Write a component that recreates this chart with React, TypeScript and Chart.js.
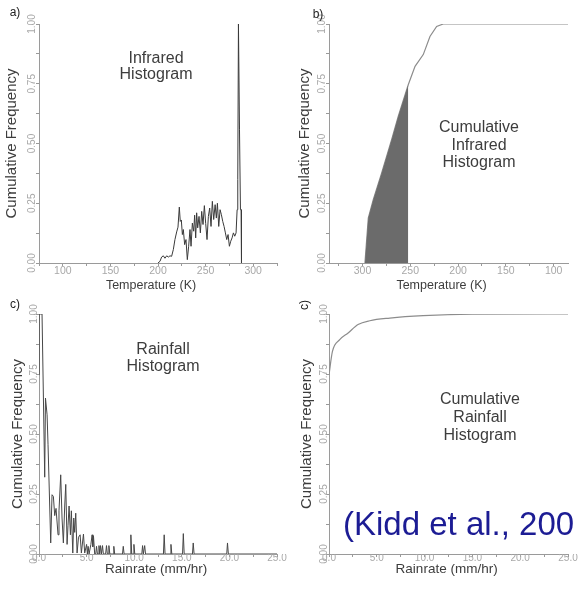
import { useEffect, useRef } from 'react';
import { Chart, registerables } from 'chart.js';

Chart.register(...registerables);

// ---- a) Infrared histogram -------------------------------------------------
const IR_TEMP_K = [
  200, 202.1, 203.8, 205.6, 207.3, 209.1, 210.9, 212.6, 214.3, 216.1, 217.8, 219.6, 221.0,
  222.4, 223.4, 224.5, 225.6, 226.6, 228.0, 229.4, 230.8, 232.2, 233.6, 234.7, 236.1, 237.5,
  238.5, 239.6, 240.6, 241.7, 243.1, 244.5, 245.9, 247.3, 248.7, 250.1, 251.5, 252.9, 254.3,
  255.7, 257.1, 258.5, 260.0, 261.3, 262.4, 263.8, 265.2, 266.6, 268.0, 269.4, 270.8, 272.2,
  273.6, 275.0, 276.4, 277.8, 279.2, 280.6, 282.0, 283.1, 283.8, 284.5, 285.6, 286.6, 287.3,
  287.7,
];
const IR_FREQ = [
  0, 0.007, 0.025, 0.03, 0.02, 0.03, 0.025, 0.03, 0.028, 0.056, 0.098, 0.13, 0.15,
  0.234, 0.174, 0.18, 0.119, 0.14, 0.077, 0.098, 0.014, 0.07, 0.14, 0.07, 0.167, 0.133,
  0.2, 0.105, 0.21, 0.147, 0.195, 0.126, 0.216, 0.161, 0.24, 0.165, 0.098, 0.195, 0.23,
  0.153, 0.258, 0.182, 0.244, 0.188, 0.25, 0.153, 0.223, 0.202, 0.174, 0.153, 0.126, 0.098,
  0.119, 0.07, 0.091, 0.105, 0.126, 0.112, 0.126, 0.223, 0.35, 1.0, 0.56, 0.223, 0.223,
  0,
];

// ---- b) Cumulative infrared histogram (temperature decreasing to the right) --
const CUM_IR_TEMP_K = [297.4, 293.9, 288.7, 279.9, 269.5, 262.6, 252.1, 245.0, 236.4, 229.4, 222.4, 215.5, 85];
const CUM_IR_FREQ = [0, 0.188, 0.265, 0.377, 0.516, 0.613, 0.746, 0.823, 0.872, 0.948, 0.99, 1.0, 1.0];
const IR_SHADE_LIMIT_K = 252.1;

// ---- c) Rainfall histogram -------------------------------------------------
const RAIN_RATE = [
  0, 0.02, 0.32, 0.6, 0.68, 0.85, 0.95, 1.09, 1.23, 1.37, 1.51, 1.65, 1.79, 2.0, 2.1, 2.28,
  2.42, 2.56, 2.7, 2.81, 2.95, 3.05, 3.16, 3.3, 3.4, 3.55, 3.65, 3.75, 3.86, 4.0, 4.15, 4.32,
  4.45, 4.67, 4.8, 5.0, 5.08, 5.16, 5.26, 5.45, 5.58, 5.65, 5.72, 5.85, 5.96, 6.04, 6.14,
  6.22, 6.3, 6.38, 6.46, 6.56, 6.6, 6.67, 6.76, 7.0, 7.09, 7.18, 7.26, 7.34, 7.44,
  7.78, 7.86, 7.95, 8.77, 8.85, 8.94, 9.57, 9.65, 9.74, 9.9, 9.97, 10.06, 10.8, 10.88,
  10.96, 11.02, 11.1, 11.19, 13.07, 13.15, 13.24, 13.78, 13.86, 13.95, 15.08, 15.16,
  15.25, 16.12, 16.2, 16.29, 19.72, 19.8, 19.89, 25,
];
const RAIN_FREQ = [
  0.747, 1.0, 1.0, 0.32, 0.65, 0.58, 0.455, 0.25, 0.046, 0.247, 0.24, 0.16, 0.19, 0.08, 0.18, 0.33,
  0.15, 0.046, 0.2, 0.29, 0.04, 0.12, 0.2, 0.08, 0.18, 0.004, 0.15, 0.09, 0.17, 0.004, 0.07, 0.08,
  0.004, 0.083, 0.004, 0.04, 0, 0.032, 0, 0.04, 0.08, 0.03, 0.076, 0, 0, 0.032, 0,
  0, 0.035, 0, 0.035, 0, 0, 0.035, 0, 0, 0.035, 0, 0, 0.035, 0,
  0, 0.032, 0, 0, 0.032, 0, 0, 0.08, 0, 0, 0.04, 0, 0, 0.035,
  0, 0, 0.035, 0, 0, 0.08, 0, 0, 0.04, 0, 0, 0.085,
  0, 0, 0.046, 0, 0, 0.046, 0, 0,
];

// ---- d) Cumulative rainfall histogram --------------------------------------
const CUM_RAIN_RATE = [0, 0.36, 1.12, 2.0, 3.04, 4.26, 6.36, 9.85, 15, 25];
const CUM_RAIN_FREQ = [0.747, 0.844, 0.893, 0.921, 0.956, 0.972, 0.983, 0.993, 0.999, 1.0];

// ---- axis ticks ------------------------------------------------------------
const TEMP_TICKS = [75, 100, 125, 150, 175, 200, 225, 250, 275, 300, 325];
const TEMP_LABELS = [100, 150, 200, 250, 300];
const RAIN_TICKS = [0, 2.5, 5, 7.5, 10, 12.5, 15, 17.5, 20, 22.5, 25];
const RAIN_LABELS = [0, 5, 10, 15, 20, 25];
const FREQ_TICKS = [0, 0.125, 0.25, 0.375, 0.5, 0.625, 0.75, 0.875, 1];
const FREQ_LABELS = [0, 0.25, 0.5, 0.75, 1];

const FONT = '"Liberation Sans", Arial, sans-serif';
const AXIS_GREY = '#9a9a9a';
const TICK_GREY = '#a8a8a8';
const TEXT_DARK = '#3d3d3d';

type Note = { text: string; x: number; y: number; size: number; color?: string; rotate?: number; align?: CanvasTextAlign };

const pts = (xs: number[], ys: number[]) => xs.map((x, i) => ({ x, y: ys[i] }));

function notesPlugin(notes: Note[]) {
  return {
    id: 'panelNotes',
    afterDraw(chart: Chart) {
      const ctx = chart.ctx;
      for (const n of notes) {
        ctx.save();
        ctx.font = `${n.size}px ${FONT}`;
        ctx.fillStyle = n.color ?? TEXT_DARK;
        ctx.textAlign = n.align ?? 'center';
        ctx.textBaseline = 'middle';
        ctx.translate(n.x, n.y);
        if (n.rotate) ctx.rotate(n.rotate);
        ctx.fillText(n.text, 0, 0);
        ctx.restore();
      }
    },
  };
}

type PanelProps = {
  left: number; top: number; width: number; height: number;
  areaBottom: number; areaRight: number;
  xMin: number; xMax: number; reverse?: boolean;
  xTicks: number[]; xLabels: number[]; fmt: (v: number) => string;
  xTitle: string; xTitleSize: number; xTitlePad: number; xTickPad: number; xTickSize: number;
  yTickPad: number; yTitlePad: number;
  datasets: any[];
  notes: Note[];
};

function Panel(p: PanelProps) {
  const ref = useRef<HTMLCanvasElement>(null);
  useEffect(() => {
    if (!ref.current) return;
    const chart = new Chart(ref.current, {
      type: 'line',
      data: { datasets: p.datasets },
      options: {
        responsive: false,
        animation: false,
        events: [],
        layout: { padding: { top: 24, right: p.width - p.areaRight, left: 0, bottom: 0 } },
        plugins: { legend: { display: false }, tooltip: { enabled: false } },
        elements: { point: { radius: 0 }, line: { tension: 0 } },
        scales: {
          x: {
            type: 'linear',
            min: p.xMin,
            max: p.xMax,
            reverse: !!p.reverse,
            afterBuildTicks: (s: any) => { s.ticks = p.xTicks.map((value) => ({ value })); },
            afterFit: (s: any) => { s.height = p.height - p.areaBottom; },
            ticks: {
              autoSkip: false, minRotation: 0, maxRotation: 0,
              padding: p.xTickPad,
              color: TICK_GREY,
              font: { family: FONT, size: p.xTickSize },
              callback: (v: any) => (p.xLabels.includes(v) ? p.fmt(v) : ''),
            },
            grid: { drawOnChartArea: false, drawTicks: true, tickLength: 3, color: AXIS_GREY },
            border: { display: true, color: AXIS_GREY, width: 1 },
            title: {
              display: true, text: p.xTitle, color: TEXT_DARK,
              font: { family: FONT, size: p.xTitleSize, lineHeight: 1 },
              padding: { top: 0, bottom: p.xTitlePad },
            },
          },
          y: {
            type: 'linear',
            min: 0,
            max: 1,
            afterBuildTicks: (s: any) => { s.ticks = FREQ_TICKS.map((value) => ({ value })); },
            afterFit: (s: any) => { s.width = 39; },
            ticks: {
              minRotation: 90, maxRotation: 90, crossAlign: 'center',
              padding: p.yTickPad,
              color: TICK_GREY,
              font: { family: FONT, size: 10 },
              callback: (v: any) => (FREQ_LABELS.includes(v) ? Number(v).toFixed(2) : ''),
            },
            grid: { drawOnChartArea: false, drawTicks: true, tickLength: 3, color: AXIS_GREY },
            border: { display: true, color: AXIS_GREY, width: 1 },
            title: {
              display: true, text: 'Cumulative Frequency', color: TEXT_DARK,
              font: { family: FONT, size: 15, lineHeight: 1 },
              padding: { top: p.yTitlePad, bottom: 0 },
            },
          },
        },
      } as any,
      plugins: [notesPlugin(p.notes)],
    });
    return () => chart.destroy();
  }, []);
  return (
    <canvas
      ref={ref}
      width={p.width}
      height={p.height}
      style={{ position: 'absolute', left: p.left, top: p.top, width: p.width, height: p.height }}
    />
  );
}

const tempFmt = (v: number) => String(v);
const rainFmt = (v: number) => v.toFixed(1);
const ROT = -Math.PI / 2;

export default function App() {
  const shadePts = pts(CUM_IR_TEMP_K, CUM_IR_FREQ).filter((d) => d.x >= IR_SHADE_LIMIT_K);
  return (
    <div style={{ position: 'fixed', left: 0, top: 0, width: 578, height: 591, background: '#fff', overflow: 'hidden' }}>
      <Panel
        left={0} top={0} width={290} height={300} areaBottom={263} areaRight={277}
        xMin={75} xMax={325} xTicks={TEMP_TICKS} xLabels={TEMP_LABELS} fmt={tempFmt}
        xTitle={'Temperature (K)    '} xTitleSize={12.5} xTitlePad={8} xTickPad={-1} xTickSize={10.5}
        yTickPad={-6} yTitlePad={4}
        datasets={[{ data: pts(IR_TEMP_K, IR_FREQ), borderColor: '#3a3a3a', borderWidth: 1, fill: false }]}
        notes={[
          { text: 'a)', x: 15, y: 13, size: 12, color: '#222' },
          { text: 'Infrared', x: 156, y: 59, size: 16 },
          { text: 'Histogram', x: 156, y: 75, size: 16 },
        ]}
      />
      <Panel
        left={290} top={0} width={288} height={300} areaBottom={263} areaRight={278}
        xMin={85} xMax={335} reverse xTicks={TEMP_TICKS.filter((t) => t >= 85 && t <= 335)} xLabels={TEMP_LABELS} fmt={tempFmt}
        xTitle={'Temperature (K)    '} xTitleSize={12.5} xTitlePad={8} xTickPad={-1} xTickSize={10.5}
        yTickPad={-6} yTitlePad={7}
        datasets={[
          { data: shadePts, borderColor: 'rgba(0,0,0,0)', borderWidth: 0, backgroundColor: '#6b6b6b', fill: 'origin' },
          { data: pts(CUM_IR_TEMP_K, CUM_IR_FREQ), borderColor: '#8c8c8c', borderWidth: 1.2, fill: false },
        ]}
        notes={[
          { text: 'b)', x: 28, y: 15, size: 12, color: '#222' },
          { text: 'Cumulative', x: 189, y: 128, size: 16 },
          { text: 'Infrared', x: 189, y: 146, size: 16 },
          { text: 'Histogram', x: 189, y: 163, size: 16 },
        ]}
      />
      <Panel
        left={0} top={290} width={290} height={301} areaBottom={264} areaRight={277}
        xMin={0} xMax={25} xTicks={RAIN_TICKS} xLabels={RAIN_LABELS} fmt={rainFmt}
        xTitle={'Rainrate (mm/hr) '} xTitleSize={13.5} xTitlePad={15} xTickPad={-5} xTickSize={10}
        yTickPad={-8} yTitlePad={10}
        datasets={[{ data: pts(RAIN_RATE, RAIN_FREQ), borderColor: '#474747', borderWidth: 1, fill: false }]}
        notes={[
          { text: 'c)', x: 15, y: 15, size: 12, color: '#222' },
          { text: 'Rainfall', x: 163, y: 60, size: 16 },
          { text: 'Histogram', x: 163, y: 77, size: 16 },
        ]}
      />
      <Panel
        left={290} top={290} width={288} height={301} areaBottom={264} areaRight={278}
        xMin={0} xMax={25} xTicks={RAIN_TICKS} xLabels={RAIN_LABELS} fmt={rainFmt}
        xTitle={'Rainrate (mm/hr) '} xTitleSize={13.5} xTitlePad={15} xTickPad={-5} xTickSize={10}
        yTickPad={-8} yTitlePad={9}
        datasets={[{ data: pts(CUM_RAIN_RATE, CUM_RAIN_FREQ), borderColor: '#8c8c8c', borderWidth: 1.2, fill: false, cubicInterpolationMode: 'monotone' }]}
        notes={[
          { text: 'c)', x: 15, y: 15, size: 12, color: '#222', rotate: ROT },
          { text: 'Cumulative', x: 190, y: 110, size: 16 },
          { text: 'Rainfall', x: 190, y: 128, size: 16 },
          { text: 'Histogram', x: 190, y: 146, size: 16 },
          { text: '(Kidd et al., 200', x: 53, y: 236, size: 33, color: '#1c1c94', align: 'left' },
        ]}
      />
    </div>
  );
}
